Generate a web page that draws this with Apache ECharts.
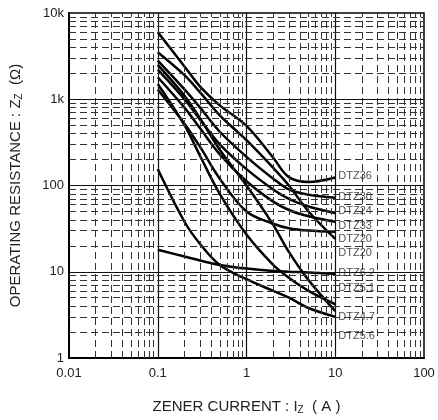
<!DOCTYPE html>
<html>
<head>
<meta charset="utf-8">
<script src="https://cdn.jsdelivr.net/npm/echarts@6/dist/echarts.min.js"></script>
<style>
  html, body { margin: 0; padding: 0; background: #fff; }
  #chart { width: 438px; height: 420px; }
</style>
</head>
<body>
<div id="chart"></div>
<script>
// zener current points (A)
const currents = [0.1, 0.2, 0.3, 0.5, 1, 2, 3, 5, 10];

// operating resistance (ohm), one list per part
const dtz36 = [6000, 2400, 1400, 850, 490, 210, 125, 110, 124];
const dtz30 = [2800, 1300, 800, 420, 215, 120, 90, 78, 72];
const dtz24 = [2200, 1000, 580, 300, 155, 90, 70, 57, 48];
const dtz33 = [1800, 800, 460, 230, 112, 65, 52, 44, 38];
const dtz20a = [1300, 520, 280, 120, 50, 36, 32, 30, 29];
const dtz20b = [3500, 1900, 1200, 650, 335, 160, 100, 50, 24];
const dtz62 = [18, 15, 13.5, 12, 10.9, 10.2, 10, 9.8, 9.4];
const dtz51 = [1500, 500, 220, 80, 27, 12, 8.5, 6, 4.2];
const dtz47 = [2500, 1100, 600, 260, 100, 35, 17, 8, 3.5];
const dtz56 = [155, 38, 21, 12, 8.2, 6, 5, 3.8, 3.0];

const seriesNames = ["DTZ36", "DTZ30", "DTZ24", "DTZ33", "DTZ20", "DTZ20 ", "DTZ6.2", "DTZ5.1", "DTZ4.7", "DTZ5.6"];
const seriesValues = [dtz36, dtz30, dtz24, dtz33, dtz20a, dtz20b, dtz62, dtz51, dtz47, dtz56];

// where each name sits at the right edge (ohm)
const labelNames = ["DTZ36", "DTZ30", "DTZ24", "DTZ33", "DTZ20", "DTZ20", "DTZ6.2", "DTZ5.1", "DTZ4.7", "DTZ5.6"];
const labelValues = [130, 74, 50, 34, 24, 16.5, 9.7, 6.5, 3.0, 1.8];

// axis ticks
const xTicks = [0.01, 0.1, 1, 10, 100];
const xTickLabels = ["0.01", "0.1", "1", "10", "100"];
const yTicks = [1, 10, 100, 1000, 10000];
const yTickLabels = ["1", "10", "100", "1k", "10k"];

// grid lines inside each decade
const decadesX = [0.01, 0.1, 1, 10];
const decadesY = [1, 10, 100, 1000];
const steps = [2, 3, 4, 5, 6, 7, 8, 9];

const font = "Liberation Sans";

function tickLabel(ticks, labels) {
  return function (v) {
    for (let i = 0; i < ticks.length; i++) {
      if (Math.abs(Math.log10(v) - Math.log10(ticks[i])) < 1e-6) return labels[i];
    }
    return "";
  };
}

let gridLines = [];
decadesX.forEach((d, i) => {
  if (i > 0) gridLines.push({ xAxis: d, lineStyle: { type: "solid", width: 1.2, color: "#111" } });
  steps.forEach((s) => gridLines.push({ xAxis: d * s, lineStyle: { type: [7, 4], width: 1, color: "#333" } }));
});
decadesY.forEach((d, i) => {
  if (i > 0) gridLines.push({ yAxis: d, lineStyle: { type: "solid", width: 1.2, color: "#111" } });
  steps.forEach((s) => gridLines.push({ yAxis: d * s, lineStyle: { type: [7, 4], width: 1, color: "#333" } }));
});

let series = [
  {
    name: "grid",
    type: "line",
    data: [],
    silent: true,
    markLine: {
      silent: true,
      symbol: "none",
      label: { show: false },
      animation: false,
      data: gridLines,
    },
  },
];

seriesValues.forEach((vals, i) => {
  series.push({
    name: seriesNames[i],
    type: "line",
    smooth: 0.35,
    showSymbol: false,
    lineStyle: { color: "#000", width: 2.5 },
    data: currents.map((x, j) => [x, vals[j]]),
    z: 3,
  });
});

series.push({
  name: "labels",
  type: "scatter",
  symbolSize: 0,
  data: labelValues.map((v, i) => [10, v, labelNames[i]]),
  label: {
    show: true,
    position: "right",
    distance: 2,
    formatter: (p) => p.data[2],
    fontFamily: font,
    fontSize: 11,
    color: "#222",
    backgroundColor: "#fff",
    padding: [0, 1],
  },
  z: 4,
});

let myChart = echarts.init(document.getElementById("chart"));
myChart.setOption({
  animation: false,
  backgroundColor: "#fff",
  grid: {
    left: 67,
    right: 14,
    top: 13,
    bottom: 57,
    show: true,
    borderColor: "#000",
    borderWidth: 1.5,
  },
  xAxis: {
    type: "log",
    logBase: 10,
    min: 0.01,
    max: 100,
    name: "ZENER CURRENT : I{s|Z}  ( A )",
    nameLocation: "middle",
    nameGap: 40,
    nameTextStyle: {
      fontFamily: font,
      fontSize: 15,
      color: "#222",
      rich: { s: { fontFamily: font, fontSize: 10, color: "#222", verticalAlign: "bottom", padding: [7, 0, 0, 0] } },
    },
    axisLine: { lineStyle: { color: "#000", width: 2 } },
    axisTick: { show: false },
    splitLine: { show: false },
    axisLabel: {
      fontFamily: font,
      fontSize: 13,
      color: "#222",
      margin: 9,
      formatter: tickLabel(xTicks, xTickLabels),
    },
  },
  yAxis: {
    type: "log",
    logBase: 10,
    min: 1,
    max: 10000,
    name: "OPERATING RESISTANCE : Z{s|Z}  (Ω)",
    nameLocation: "middle",
    nameRotate: 90,
    nameGap: 45,
    nameTextStyle: {
      fontFamily: font,
      fontSize: 15,
      color: "#222",
      rich: { s: { fontFamily: font, fontSize: 10, color: "#222", verticalAlign: "bottom", padding: [7, 0, 0, 0] } },
    },
    axisLine: { show: true, lineStyle: { color: "#000", width: 2 } },
    axisTick: { show: false },
    splitLine: { show: false },
    axisLabel: {
      fontFamily: font,
      fontSize: 13,
      color: "#222",
      margin: 5,
      formatter: tickLabel(yTicks, yTickLabels),
    },
  },
  series: series,
});
</script>
</body>
</html>
